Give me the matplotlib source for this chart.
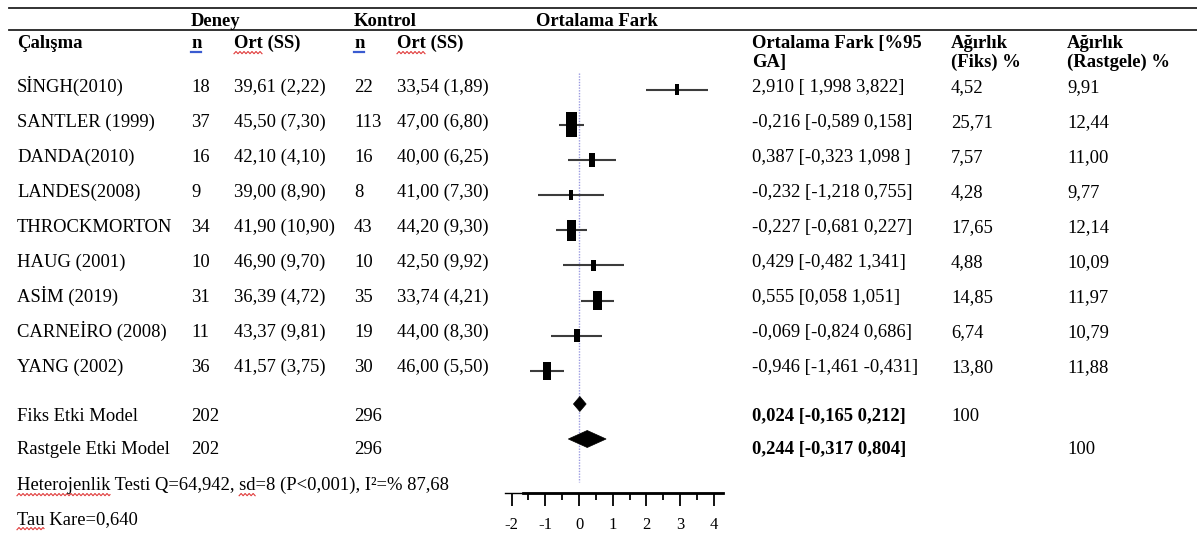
import numpy as np
import matplotlib
matplotlib.use('Agg')
import matplotlib.pyplot as plt
from matplotlib.patches import Rectangle, Polygon

plt.rcParams['font.family'] = ['Liberation Serif', 'DejaVu Serif']
plt.rcParams['axes.unicode_minus'] = False

studies = ['SİNGH(2010)', 'SANTLER (1999)', 'DANDA(2010)', 'LANDES(2008)', 'THROCKMORTON',
           'HAUG (2001)', 'ASİM (2019)', 'CARNEİRO (2008)', 'YANG (2002)']
n_deney = [18, 37, 16, 9, 34, 10, 31, 11, 36]
ort_deney = ['39,61 (2,22)', '45,50 (7,30)', '42,10 (4,10)', '39,00 (8,90)', '41,90 (10,90)',
             '46,90 (9,70)', '36,39 (4,72)', '43,37 (9,81)', '41,57 (3,75)']
n_kontrol = [22, 113, 16, 8, 43, 10, 35, 19, 30]
ort_kontrol = ['33,54 (1,89)', '47,00 (6,80)', '40,00 (6,25)', '41,00 (7,30)', '44,20 (9,30)',
               '42,50 (9,92)', '33,74 (4,21)', '44,00 (8,30)', '46,00 (5,50)']
md = [2.910, -0.216, 0.387, -0.232, -0.227, 0.429, 0.555, -0.069, -0.946]
ci_low = [1.998, -0.589, -0.323, -1.218, -0.681, -0.482, 0.058, -0.824, -1.461]
ci_high = [3.822, 0.158, 1.098, 0.755, 0.227, 1.341, 1.051, 0.686, -0.431]
ci_labels = ['2,910 [ 1,998 3,822]', '-0,216 [-0,589 0,158]', '0,387 [-0,323 1,098 ]',
             '-0,232 [-1,218 0,755]', '-0,227 [-0,681 0,227]', '0,429 [-0,482 1,341]',
             '0,555 [0,058 1,051]', '-0,069 [-0,824 0,686]', '-0,946 [-1,461 -0,431]']
w_fixed = [4.52, 25.71, 7.57, 4.28, 17.65, 4.88, 14.85, 6.74, 13.80]
w_random = [9.91, 12.44, 11.00, 9.77, 12.14, 10.09, 11.97, 10.79, 11.88]

summary_names = ['Fiks Etki Model', 'Rastgele Etki Model']
summary_md = [0.024, 0.244]
summary_low = [-0.165, -0.317]
summary_high = [0.212, 0.804]
summary_labels = ['0,024 [-0,165 0,212]', '0,244 [-0,317 0,804]']

x_ticks = [-2, -1, 0, 1, 2, 3, 4]

def fmt(v):
    return f'{v:.2f}'.replace('.', ',')

W, H = 1197, 538
fig = plt.figure(figsize=(W / 100, H / 100), dpi=100)

# text layer in pixel coords (y downwards)
tax = fig.add_axes([0, 0, 1, 1])
tax.set_xlim(0, W)
tax.set_ylim(H, 0)
tax.axis('off')

FS = 13.4
txt = dict(fontsize=FS, color='black', va='baseline', ha='left')
bold = dict(txt, fontweight='bold')

# horizontal rules
tax.plot([9, W], [8, 8], color='#222222', lw=1.3)
tax.plot([9, W], [30, 30], color='#222222', lw=1.3)

# column positions
x_name, x_nd, x_od, x_nk, x_ok = 17, 191, 234, 354, 397
x_ci, x_wf, x_wr = 752, 951, 1067

# group headers
tax.text(x_nd, 26, 'Deney', **bold)
tax.text(x_nk, 26, 'Kontrol', **bold)
tax.text(536, 26, 'Ortalama Fark', **bold)

# column headers
tax.text(x_name, 48, 'Çalışma', **bold)
tax.text(x_nd, 48, 'n', **bold)
tax.text(x_od, 48, 'Ort (SS)', **bold)
tax.text(x_nk, 48, 'n', **bold)
tax.text(x_ok, 48, 'Ort (SS)', **bold)
tax.text(x_ci, 48, 'Ortalama Fark [%95', **bold)
tax.text(x_ci, 67, 'GA]', **bold)
tax.text(x_wf, 48, 'Ağırlık', **bold)
tax.text(x_wf, 67, '(Fiks) %', **bold)
tax.text(x_wr, 48, 'Ağırlık', **bold)
tax.text(x_wr, 67, '(Rastgele) %', **bold)

# study rows
base0, step = 91.7, 35.0
for i in range(len(studies)):
    yb = base0 + i * step
    tax.text(x_name, yb, studies[i], **txt)
    tax.text(x_nd, yb, str(n_deney[i]), **txt)
    tax.text(x_od, yb, ort_deney[i], **txt)
    tax.text(x_nk, yb, str(n_kontrol[i]), **txt)
    tax.text(x_ok, yb, ort_kontrol[i], **txt)
    tax.text(x_ci, yb, ci_labels[i], **txt)
    tax.text(x_wf, yb, fmt(w_fixed[i]), **txt)
    tax.text(x_wr, yb, fmt(w_random[i]), **txt)

# summary rows
sum_base = [421, 454]
for j in range(2):
    tax.text(x_name, sum_base[j], summary_names[j], **txt)
    tax.text(x_nd, sum_base[j], str(sum(n_deney)), **txt)
    tax.text(x_nk, sum_base[j], str(sum(n_kontrol)), **txt)
    tax.text(x_ci, sum_base[j], summary_labels[j], **bold)
tax.text(x_wf, sum_base[0], '100', **txt)
tax.text(x_wr, sum_base[1], '100', **txt)

het_str = 'Heterojenlik Testi Q=64,942, sd=8 (P<0,001), I²=% 87,68'
tax.text(x_name, 490, het_str, **txt)
tax.text(x_name, 524, 'Tau Kare=0,640', **txt)

# ---- spell-check style underlines ----
renderer = fig.canvas.get_renderer()

def text_width(s, props):
    t = tax.text(0, 0, s + 'x', **props)
    w1 = t.get_window_extent(renderer).width
    t.remove()
    t = tax.text(0, 0, 'x', **props)
    w2 = t.get_window_extent(renderer).width
    t.remove()
    return w1 - w2

def squiggle(x0, yb, prefix, word, props):
    xs = x0 + (text_width(prefix, props) if prefix else 0)
    xe = xs + text_width(word, props)
    xx = np.arange(xs, xe, 1.0)
    yy = yb + 3.5 + np.abs(((xx - xs) / 2.0) % 2 - 1) * 2.2
    tax.plot(xx, yy, color='#e03a3a', lw=0.8)

squiggle(x_od, 48, '', 'Ort', bold)
squiggle(x_ok, 48, '', 'Ort', bold)
squiggle(x_name, 490, '', 'Heterojenlik', txt)
squiggle(x_name, 490, 'Heterojenlik Testi Q=64,942, ', 'sd', txt)
squiggle(x_name, 524, '', 'Tau', txt)

for xn in (x_nd, x_nk):
    wn = text_width('n', bold)
    tax.plot([xn, xn + wn], [51.5, 51.5], color='#3a5bd0', lw=1.6)

# ---- forest plot ----
px0, px1 = 505, 723
py_top, py_axis = 60, 493
fax = fig.add_axes([px0 / W, (H - py_axis) / H, (px1 - px0) / W, (py_axis - py_top) / H])
fax.patch.set_visible(False)
fax.set_xlim(-2.196, 4.273)
fax.set_ylim(py_axis, py_top)
for s in ('top', 'left', 'right'):
    fax.spines[s].set_visible(False)
fax.spines['bottom'].set_linewidth(1.0)
fax.set_yticks([])
fax.set_xticks(x_ticks)
fax.set_xticklabels([str(t) for t in x_ticks])
fax.set_xticks([t + 0.5 for t in x_ticks[:-1]], minor=True)
fax.tick_params(axis='x', which='major', direction='out', length=9.4, width=1.3, pad=8, labelsize=12)
fax.tick_params(axis='x', which='minor', direction='out', length=5, width=1.3)
# heavier part of the axis line
fax.plot([-1.66, 4.273], [py_axis, py_axis], color='black', lw=2.0, clip_on=False)

unit_px = (px1 - px0) / (4.273 + 2.196)

# reference line at zero (drawn underneath the markers)
fax.plot([0, 0], [73, 482], color='#9a9ae0', lw=1.0, ls=(0, (1, 1)), zorder=0.5)

mark0, mstep = 89.7, 35.15
for i in range(len(studies)):
    y = mark0 + i * mstep
    fax.plot([ci_low[i], ci_high[i]], [y, y], color='#3c3c3c', lw=1.5, solid_capstyle='butt', zorder=1)
    h = 4.9 * np.sqrt(w_fixed[i])
    w = 0.45 * h / unit_px
    fax.add_patch(Rectangle((md[i] - w / 2, y - h / 2), w, h, facecolor='black', edgecolor='none', zorder=2))

sum_y = [404, 439]
sum_h = [15, 17]
for j in range(2):
    y, hh = sum_y[j], sum_h[j] / 2
    fax.add_patch(Polygon([(summary_low[j], y), (summary_md[j], y - hh),
                           (summary_high[j], y), (summary_md[j], y + hh)],
                          closed=True, facecolor='black', edgecolor='black', lw=0.5, zorder=2))

fig.savefig('out.png', dpi=100)
